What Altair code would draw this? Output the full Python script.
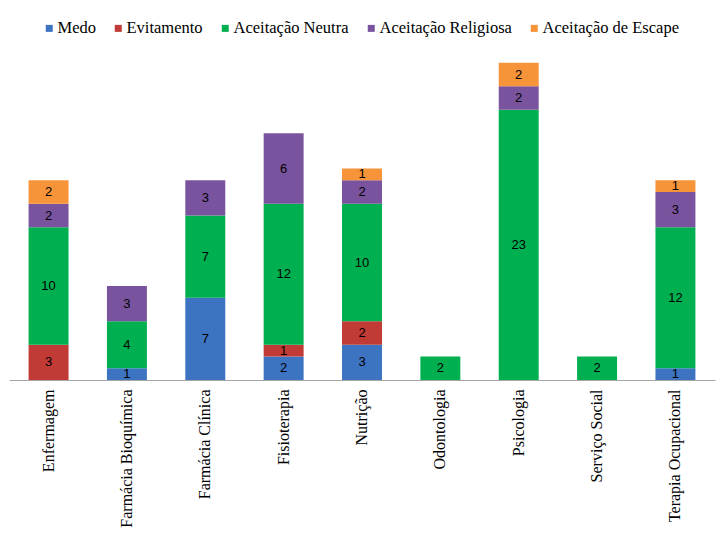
import altair as alt
import pandas as pd

cursos = ["Enfermagem", "Farmácia Bioquímica", "Farmácia Clínica", "Fisioterapia",
          "Nutrição", "Odontologia", "Psicologia", "Serviço Social", "Terapia Ocupacional"]
series = ["Medo", "Evitamento", "Aceitação Neutra", "Aceitação Religiosa", "Aceitação de Escape"]
medo = [0, 1, 7, 2, 3, 0, 0, 0, 1]
evitamento = [3, 0, 0, 1, 2, 0, 0, 0, 0]
neutra = [10, 4, 7, 12, 10, 2, 23, 2, 12]
religiosa = [2, 3, 3, 6, 2, 0, 2, 0, 3]
escape = [2, 0, 0, 0, 1, 0, 2, 0, 1]
colors = ["#3C74C2", "#C23A35", "#00B050", "#7A539E", "#F79338"]

rows = []
for si, (name, vals) in enumerate(zip(series, [medo, evitamento, neutra, religiosa, escape])):
    for c, v in zip(cursos, vals):
        if v > 0:
            rows.append({"curso": c, "serie": name, "ordem": si, "valor": v})
df = pd.DataFrame(rows)

base = alt.Chart(df).transform_stack(
    stack="valor", groupby=["curso"], sort=[alt.SortField("ordem", "ascending")], as_=["y0", "y1"]
).transform_calculate(mid="(datum.y0 + datum.y1) / 2")

xenc = alt.X("curso:N", sort=cursos, title=None,
             scale=alt.Scale(paddingInner=0.49, paddingOuter=0.25),
             axis=alt.Axis(labelAngle=-90, labelFont="Liberation Serif", labelFontSize=16,
                           labelColor="#000000", ticks=False, domainColor="#A6A6A6",
                           labelPadding=9, labelLimit=300))
yscale = alt.Scale(domain=[0, 28], nice=False)

bars = base.mark_bar().encode(
    x=xenc,
    y=alt.Y("y0:Q", scale=yscale, axis=None),
    y2="y1:Q",
    color=alt.Color("serie:N", sort=series,
                    scale=alt.Scale(domain=series, range=colors),
                    legend=alt.Legend(title=None, orient="none", direction="horizontal",
                                      legendX=32, legendY=-31, symbolType="square",
                                      symbolSize=49, symbolStrokeWidth=0,
                                      labelFont="Liberation Serif", labelFontSize=16.5,
                                      labelColor="#000000", columnPadding=14,
                                      labelOffset=0)),
)

labels = base.mark_text(font="Liberation Sans", fontSize=13, color="#000000", baseline="middle").encode(
    x=alt.X("curso:N", sort=cursos),
    y=alt.Y("mid:Q", scale=yscale),
    text="valor:Q",
)

chart = alt.layer(bars, labels).properties(
    width=706, height=329,
    autosize=alt.AutoSizeParams(type="none"),
    padding={"left": 9, "top": 51, "right": 10, "bottom": 174},
    background="#FFFFFF",
).configure_view(stroke=None).configure_legend(labelFont="Liberation Serif")

chart.save("out.html", embed_options={"renderer": "svg", "actions": False})
